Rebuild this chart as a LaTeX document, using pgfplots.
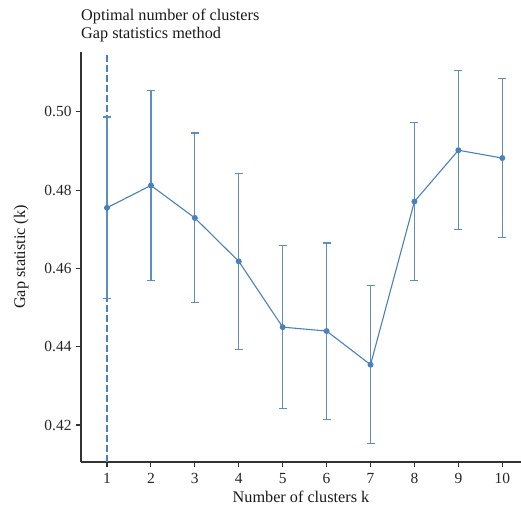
\documentclass[border=0pt]{standalone}
\usepackage{pgfplots}
\pgfplotsset{compat=1.18}
\usepackage{pgfplotstable}
\usepackage{fontspec}
\setmainfont{Liberation Serif}
\definecolor{gapblue}{HTML}{4A80BC}
\definecolor{axisgray}{HTML}{333333}

% k, gap statistic, standard error
\pgfplotstableread{
k  gap     se
1  0.4755  0.0232
2  0.4812  0.0242
3  0.4729  0.0217
4  0.4618  0.0225
5  0.4450  0.0208
6  0.4440  0.0225
7  0.4354  0.0202
8  0.4771  0.0202
9  0.4902  0.0203
10 0.4882  0.0203
}\gapdata

\begin{document}
\begin{tikzpicture}
\useasboundingbox (-81bp,-55bp) rectangle (440bp,462bp);
\begin{axis}[
  at={(0,0)}, anchor=origin,
  scale only axis,
  width=440bp, height=410bp,
  xmin=0.408, xmax=10.426,
  ymin=0.41054, ymax=0.5153,
  axis x line*=bottom, axis y line*=left,
  axis line style={axisgray, line width=1.1pt, -},
  xtick={1,...,10},
  ytick={0.42,0.44,0.46,0.48,0.50},
  yticklabel style={xshift=-1bp, /pgf/number format/.cd, fixed, fixed zerofill, precision=2},
  /pgf/number format/assume math mode=true,
  tick style={axisgray, line width=1.1pt},
  tick align=outside,
  major tick length=5bp,
  ticklabel style={font=\fontsize{15.5}{17}\selectfont, text=black!85},
  xticklabel style={yshift=-3bp},
  xlabel={Number of clusters k},
  ylabel={Gap statistic (k)},
  label style={font=\fontsize{16.3}{18}\selectfont, text=black!90},
  xlabel style={yshift=0bp},
  ylabel style={yshift=9bp},
  clip=false,
]
\addplot[gapblue, line width=1.3pt, dash pattern=on 6.5bp off 3.5bp]
  coordinates {(1,0.41054) (1,0.5153)};
\addplot[gapblue, line width=1.1pt, mark=*, mark size=2.4bp,
  mark options={solid, fill=gapblue},
  error bars/.cd, y dir=both, y explicit,
  error bar style={line width=1.25pt, gapblue!90},
  error mark options={rotate=90, mark size=4bp, line width=1.1pt, gapblue!90}]
  table[x=k, y=gap, y error=se] {\gapdata};
\node[anchor=base west, font=\fontsize{16.3}{18}\selectfont, text=black!90, inner sep=0pt]
  at ([yshift=31bp]rel axis cs:0,1) {Optimal number of clusters};
\node[anchor=base west, font=\fontsize{16.3}{18}\selectfont, text=black!90, inner sep=0pt]
  at ([yshift=13bp]rel axis cs:0,1) {Gap statistics method};
\end{axis}
\end{tikzpicture}
\end{document}
